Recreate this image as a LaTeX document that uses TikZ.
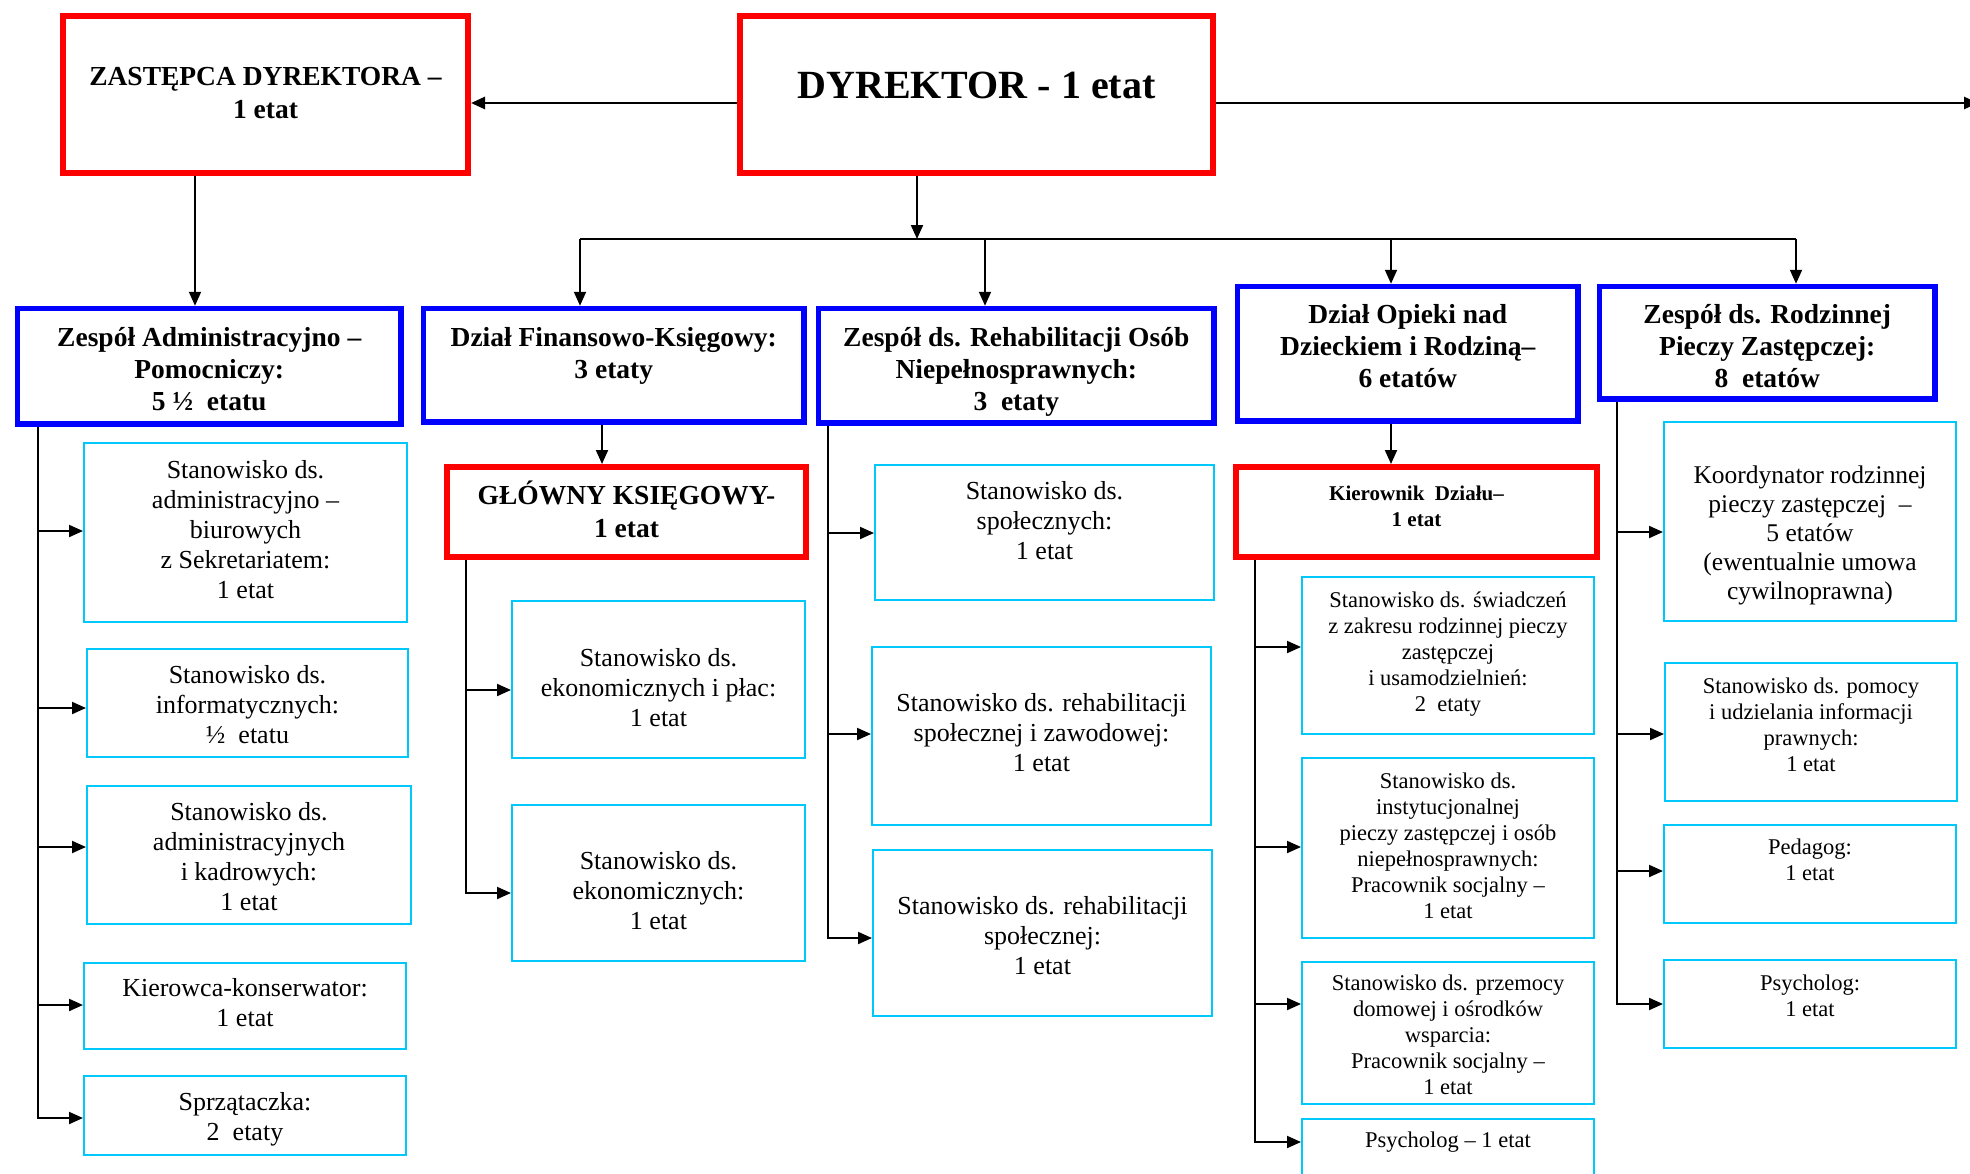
\documentclass[tikz,border=0pt]{standalone}
\usepackage{fontspec}
\setmainfont{Liberation Serif}
\usetikzlibrary{arrows.meta}
\definecolor{myred}{RGB}{255,0,0}
\definecolor{myblue}{RGB}{0,0,255}
\definecolor{mycyan}{RGB}{0,200,250}
% width, height, first-baseline offset, font, text
\newcommand{\tb}[5]{\parbox[c][#2pt][t]{#1pt}{#4\centering\rule{0pt}{#3pt}#5\par}}
\newcommand{\fDyr}{\fontsize{40pt}{48pt}\selectfont\bfseries}
\newcommand{\fHa}{\fontsize{27.5pt}{33pt}\selectfont\bfseries}
\newcommand{\fHb}{\fontsize{27.5pt}{32pt}\selectfont\bfseries}
\newcommand{\fKier}{\fontsize{21pt}{25.5pt}\selectfont\bfseries}
\newcommand{\fA}{\fontsize{26pt}{30pt}\selectfont}
\newcommand{\fS}{\fontsize{22.5pt}{26pt}\selectfont}
\newcommand{\fC}{\fontsize{25.5pt}{29pt}\selectfont}
\tikzset{
  redbox/.style={draw=myred, line width=6pt, inner sep=0pt, anchor=north west},
  bluebox/.style={draw=myblue, line width=5.5pt, inner sep=0pt, anchor=north west},
  cyanbox/.style={draw=mycyan, line width=2pt, inner sep=0pt, anchor=north west},
  arr/.style={-{Triangle[length=14pt,width=12pt]}, line width=2pt},
  conn/.style={line width=2pt},
  heavy/.style={line width=2.6pt}
}
\begin{document}
\begin{tikzpicture}[x=1pt,y=-1pt]
\fill[white] (0,0) rectangle (1970,1173);
\useasboundingbox (0,0) rectangle (1970,1173);

% top level
\node[redbox] (zast) at (60,13) {\tb{405}{157}{69}{\fHa}{ZASTĘPCA DYREKTORA –\\1 etat}};
\node[redbox] (dyr) at (737,13) {\tb{473}{157}{82}{\fDyr}{DYREKTOR - 1 etat}};

% departments
\node[bluebox] (adm) at (14.75,305.75) {\tb{383.5}{115.5}{38.25}{\fHb}{Zespół Administracyjno –\\Pomocniczy:\\5 ½\ \ etatu}};
\node[bluebox] (fin) at (420.75,305.75) {\tb{380.5}{113.5}{38.25}{\fHb}{Dział Finansowo-Księgowy:\\3 etaty}};
\node[bluebox] (reh) at (815.75,305.75) {\tb{395.5}{114.5}{38.25}{\fHb}{Zespół ds. Rehabilitacji Osób\\Niepełnosprawnych:\\3\ \ etaty}};
\node[bluebox] (opi) at (1234.75,283.75) {\tb{340.5}{134.5}{37.25}{\fHb}{Dział Opieki nad\\Dzieckiem i Rodziną–\\6 etatów}};
\node[bluebox] (rod) at (1596.75,283.75) {\tb{335.5}{112.5}{37.25}{\fHb}{Zespół ds. Rodzinnej\\Pieczy Zastępczej:\\8\ \ etatów}};

% managers
\node[redbox] (glow) at (444,464) {\tb{359}{90}{37}{\fHa}{GŁÓWNY KSIĘGOWY-\\1 etat}};
\node[redbox] (kier) at (1233,464) {\tb{361}{90}{33.5}{\fKier}{Kierownik\ \ Działu–\\1 etat}};

% column A
\node[cyanbox] (a1) at (83,442) {\tb{323}{179}{35.6}{\fA}{Stanowisko ds.\\administracyjno –\\biurowych\\z Sekretariatem:\\1 etat}};
\node[cyanbox] (a2) at (86,648) {\tb{321}{108}{34}{\fA}{Stanowisko ds.\\informatycznych:\\½\ \ etatu}};
\node[cyanbox] (a3) at (86,785) {\tb{324}{138}{34}{\fA}{Stanowisko ds.\\administracyjnych\\i kadrowych:\\1 etat}};
\node[cyanbox] (a4) at (83,962) {\tb{322}{86}{33}{\fA}{Kierowca-konserwator:\\1 etat}};
\node[cyanbox] (a5) at (83,1075) {\tb{322}{79}{34}{\fA}{Sprzątaczka:\\2\ \ etaty}};

% column F
\node[cyanbox] (f1) at (511,600) {\tb{293}{157}{65}{\fA}{Stanowisko ds.\\ekonomicznych i płac:\\1 etat}};
\node[cyanbox] (f2) at (511,804) {\tb{293}{156}{64}{\fA}{Stanowisko ds.\\ekonomicznych:\\1 etat}};

% column R
\node[cyanbox] (r1) at (874,464) {\tb{339}{135}{34.5}{\fA}{Stanowisko ds.\\społecznych:\\1 etat}};
\node[cyanbox] (r2) at (871,646) {\tb{339}{178}{64}{\fA}{Stanowisko ds. rehabilitacji\\społecznej i zawodowej:\\1 etat}};
\node[cyanbox] (r3) at (872,849) {\tb{339}{166}{64.5}{\fA}{Stanowisko ds. rehabilitacji\\społecznej:\\1 etat}};

% column O
\node[cyanbox] (o1) at (1301,576) {\tb{292}{157}{30.6}{\fS}{Stanowisko ds. świadczeń\\z zakresu rodzinnej pieczy\\zastępczej\\i usamodzielnień:\\2\ \ etaty}};
\node[cyanbox] (o2) at (1301,757) {\tb{292}{180}{30}{\fS}{Stanowisko ds.\\instytucjonalnej\\pieczy zastępczej i osób\\niepełnosprawnych:\\Pracownik socjalny –\\1 etat}};
\node[cyanbox] (o3) at (1301,961) {\tb{292}{142}{28.5}{\fS}{Stanowisko ds. przemocy\\domowej i ośrodków\\wsparcia:\\Pracownik socjalny –\\1 etat}};
\node[cyanbox] (o4) at (1301,1118) {\tb{292}{81}{28.5}{\fS}{Psycholog – 1 etat}};

% column D
\node[cyanbox] (d1) at (1663,421) {\tb{292}{199}{61}{\fC}{Koordynator rodzinnej\\pieczy zastępczej\ \ –\\5 etatów\\(ewentualnie umowa\\cywilnoprawna)}};
\node[cyanbox] (d2) at (1664,662) {\tb{292}{138}{30.7}{\fS}{Stanowisko ds. pomocy\\i udzielania informacji\\prawnych:\\1 etat}};
\node[cyanbox] (d3) at (1663,824) {\tb{292}{98}{29}{\fS}{Pedagog:\\1 etat}};
\node[cyanbox] (d4) at (1663,959) {\tb{292}{88}{30}{\fS}{Psycholog:\\1 etat}};

% top connectors
\coordinate (h) at (0,103);
\coordinate (hr) at (1978,103);
\draw[arr,heavy] (h -| dyr.west) -- (h -| zast.east);
\draw[arr,heavy] (h -| dyr.east) -- (hr);
\coordinate (xz) at (195,0);
\draw[arr] (xz |- zast.south) -- (xz |- adm.north);
\coordinate (bus) at (917,239);
\draw[arr] (bus |- dyr.south) -- (bus);
\coordinate (b1) at (580,239);
\coordinate (b2) at (985,239);
\coordinate (b3) at (1391,239);
\coordinate (b4) at (1796,239);
\draw[heavy] (b1) -- (b4);
\draw[arr] (b1) -- (b1 |- fin.north);
\draw[arr] (b2) -- (b2 |- reh.north);
\draw[arr] (b3) -- (b3 |- opi.north);
\draw[arr] (b4) -- (b4 |- rod.north);
\coordinate (xf) at (602,0);
\draw[arr] (xf |- fin.south) -- (xf |- glow.north);
\draw[arr] (b3 |- opi.south) -- (b3 |- kier.north);

% trunks
\coordinate (tA) at (38,0);
\draw[arr] (tA |- adm.south) |- (a1.west |- 0,531);
\draw[arr] (tA |- adm.south) |- (a2.west |- 0,708);
\draw[arr] (tA |- adm.south) |- (a3.west |- 0,847);
\draw[arr] (tA |- adm.south) |- (a4.west |- 0,1005);
\draw[arr] (tA |- adm.south) |- (a5.west |- 0,1118);

\coordinate (tF) at (466,0);
\draw[arr] (tF |- glow.south) |- (f1.west |- 0,690);
\draw[arr] (tF |- glow.south) |- (f2.west |- 0,893);

\coordinate (tR) at (828,0);
\draw[arr] (tR |- reh.south) |- (r1.west |- 0,533);
\draw[arr] (tR |- reh.south) |- (r2.west |- 0,734);
\draw[arr] (tR |- reh.south) |- (r3.west |- 0,938);

\coordinate (tO) at (1255,0);
\draw[arr] (tO |- kier.south) |- (o1.west |- 0,647);
\draw[arr] (tO |- kier.south) |- (o2.west |- 0,847);
\draw[arr] (tO |- kier.south) |- (o3.west |- 0,1004);
\draw[arr] (tO |- kier.south) |- (o4.west |- 0,1142);

\coordinate (tD) at (1617,0);
\draw[arr] (tD |- rod.south) |- (d1.west |- 0,532);
\draw[arr] (tD |- rod.south) |- (d2.west |- 0,734);
\draw[arr] (tD |- rod.south) |- (d3.west |- 0,871);
\draw[arr] (tD |- rod.south) |- (d4.west |- 0,1004);
\end{tikzpicture}
\end{document}
